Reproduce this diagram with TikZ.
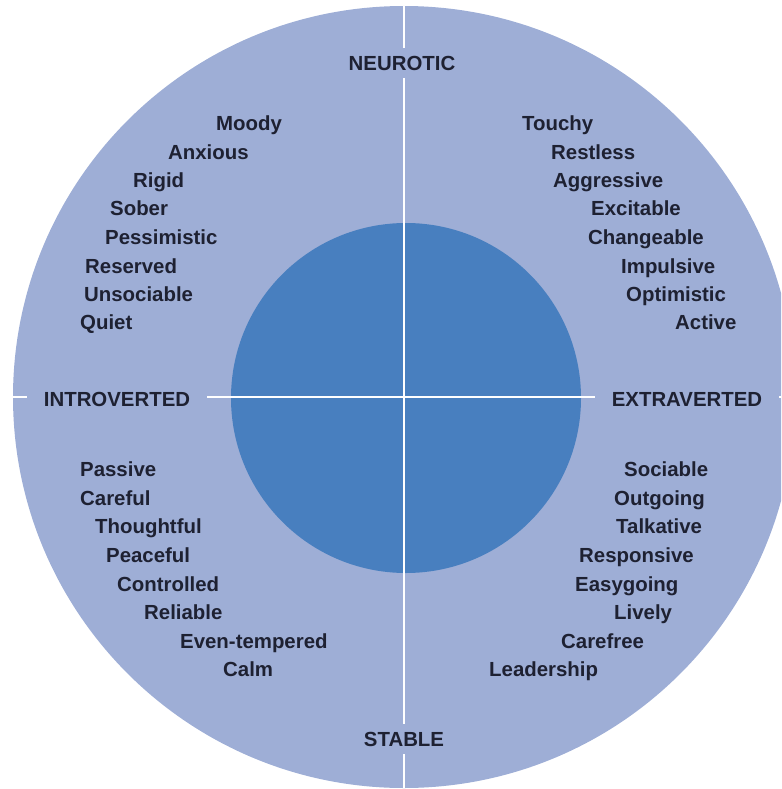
\documentclass[tikz,border=0pt]{standalone}
\usepackage{fontspec}
\setmainfont{Liberation Sans}
\definecolor{ringblue}{RGB}{158,174,214}
\definecolor{coreblue}{RGB}{72,127,191}
\definecolor{inkdark}{RGB}{30,33,50}
\begin{document}
\begin{tikzpicture}[x=1pt,y=-1pt,
  trait/.style={anchor=base west,inner sep=0pt,text=inkdark,font=\fontsize{20.4}{23}\selectfont\bfseries},
  axislabel/.style={inner xsep=17pt,inner ysep=8pt,fill=ringblue,text=inkdark,font=\fontsize{20.4}{23}\selectfont\bfseries},
  axisline/.style={draw=white,line width=2.6pt}]
\useasboundingbox (0,0) rectangle (781,789);
\clip (0,0) rectangle (781,789);
% outer disc and inner core
\node (outer) [circle,fill=ringblue,minimum size=782pt,inner sep=0pt] at (404,397) {};
\node (core) [circle,fill=coreblue,minimum size=350pt,inner sep=0pt] at (406,398) {};
% the two axes
\draw[axisline] (outer.north) -- (outer.south);
\draw[axisline] (outer.west) -- (outer.east);
% axis labels
\node (neurotic) [axislabel] at (402,63) {NEUROTIC};
\node (stable) [axislabel] at (404,739) {STABLE};
\node (introverted) [axislabel] at (117,399) {INTROVERTED};
\node (extraverted) [axislabel] at (687,399) {EXTRAVERTED};
% neurotic / introverted
\node (moody) [trait] at (216,130) {Moody};
\node (anxious) [trait] at (168,159) {Anxious};
\node (rigid) [trait] at (133,187) {Rigid};
\node (sober) [trait] at (110,215) {Sober};
\node (pessimistic) [trait] at (105,244) {Pessimistic};
\node (reserved) [trait] at (85,273) {Reserved};
\node (unsociable) [trait] at (84,301) {Unsociable};
\node (quiet) [trait] at (80,329) {Quiet};
% neurotic / extraverted
\node (touchy) [trait] at (522,130) {Touchy};
\node (restless) [trait] at (551,159) {Restless};
\node (aggressive) [trait] at (553,187) {Aggressive};
\node (excitable) [trait] at (591,215) {Excitable};
\node (changeable) [trait] at (588,244) {Changeable};
\node (impulsive) [trait] at (621,273) {Impulsive};
\node (optimistic) [trait] at (626,301) {Optimistic};
\node (active) [trait] at (675,329) {Active};
% stable / introverted
\node (passive) [trait] at (80,476) {Passive};
\node (careful) [trait] at (80,505) {Careful};
\node (thoughtful) [trait] at (95,533) {Thoughtful};
\node (peaceful) [trait] at (106,562) {Peaceful};
\node (controlled) [trait] at (117,591) {Controlled};
\node (reliable) [trait] at (144,619) {Reliable};
\node (eventempered) [trait] at (180,648) {Even-tempered};
\node (calm) [trait] at (223,676) {Calm};
% stable / extraverted
\node (sociable) [trait] at (624,476) {Sociable};
\node (outgoing) [trait] at (614,505) {Outgoing};
\node (talkative) [trait] at (616,533) {Talkative};
\node (responsive) [trait] at (579,562) {Responsive};
\node (easygoing) [trait] at (575,591) {Easygoing};
\node (lively) [trait] at (614,619) {Lively};
\node (carefree) [trait] at (561,648) {Carefree};
\node (leadership) [trait] at (489,676) {Leadership};
\end{tikzpicture}
\end{document}
